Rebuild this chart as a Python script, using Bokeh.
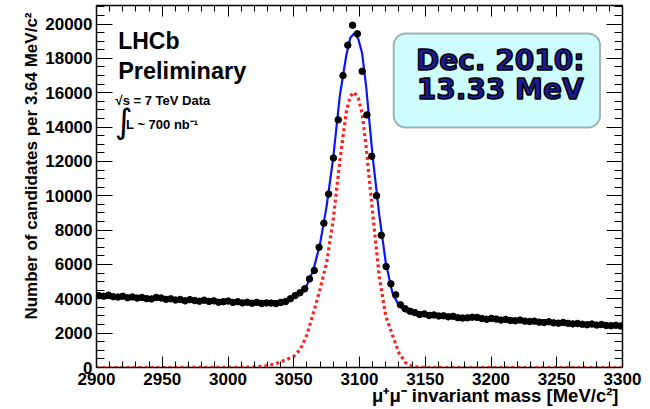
from bokeh.plotting import figure
from bokeh.models import Range1d, LinearAxis, SingleIntervalTicker, Label, BoxAnnotation, Title
from bokeh.embed import file_html
from bokeh.resources import INLINE

# ---- data ----
bin_centers = [
    2901.82, 2905.46, 2909.10, 2912.74, 2916.38, 2920.02, 2923.66, 2927.30, 2930.94, 2934.58,
    2938.22, 2941.86, 2945.50, 2949.14, 2952.78, 2956.42, 2960.06, 2963.70, 2967.34, 2970.98,
    2974.62, 2978.26, 2981.90, 2985.54, 2989.18, 2992.82, 2996.46, 3000.10, 3003.74, 3007.38,
    3011.02, 3014.66, 3018.30, 3021.94, 3025.58, 3029.22, 3032.86, 3036.50, 3040.14, 3043.78,
    3047.42, 3051.06, 3054.70, 3058.34, 3061.98, 3065.62, 3069.26, 3072.90, 3076.54, 3080.18,
    3083.82, 3087.46, 3091.10, 3094.74, 3098.38, 3102.02, 3105.66, 3109.30, 3112.94, 3116.58,
    3120.22, 3123.86, 3127.50, 3131.14, 3134.78, 3138.42, 3142.06, 3145.70, 3149.34, 3152.98,
    3156.62, 3160.26, 3163.90, 3167.54, 3171.18, 3174.82, 3178.46, 3182.10, 3185.74, 3189.38,
    3193.02, 3196.66, 3200.30, 3203.94, 3207.58, 3211.22, 3214.86, 3218.50, 3222.14, 3225.78,
    3229.42, 3233.06, 3236.70, 3240.34, 3243.98, 3247.62, 3251.26, 3254.90, 3258.54, 3262.18,
    3265.82, 3269.46, 3273.10, 3276.74, 3280.38, 3284.02, 3287.66, 3291.30, 3294.94, 3298.58,
]
candidates = [
    4180, 4150, 4210, 4120, 4100, 4150, 4060, 4110, 4040, 4080,
    4010, 3990, 4080, 4050, 3970, 4000, 3930, 3960, 3880, 3950,
    3900, 3860, 3920, 3850, 3880, 3800, 3830, 3870, 3790, 3830,
    3760, 3800, 3740, 3790, 3730, 3760, 3750, 3720, 3790, 3840,
    4000, 4190, 4350, 4580, 5160, 5650, 7000, 8400, 10100, 12200,
    14420, 17000, 18770, 19930, 19430, 17250, 14710, 12300, 10000, 7700,
    5880, 4870, 4230, 3650, 3420, 3280, 3200, 3090, 3120, 3030,
    3060, 3000, 3010, 2950, 2980, 2900, 2880, 2890, 2930, 2920,
    2850, 2810, 2860, 2820, 2760, 2800, 2740, 2720, 2760, 2700,
    2680, 2700, 2640, 2620, 2660, 2600, 2580, 2620, 2570, 2540,
    2560, 2520, 2490, 2530, 2470, 2500, 2450, 2430, 2460, 2420,
]

fit_mass = [2900, 2910, 2920, 2930, 2940, 2950, 2960, 2970, 2980, 2990,
            3000, 3010, 3020, 3030, 3035, 3040, 3045, 3050, 3055, 3060,
            3065, 3070, 3075, 3080, 3085, 3090, 3093, 3096, 3099, 3102,
            3105, 3110, 3115, 3120, 3125, 3130, 3135, 3140, 3145, 3150,
            3160, 3170, 3180, 3190, 3200, 3210, 3220, 3230, 3240, 3250,
            3260, 3270, 3280, 3290, 3300]
fit_total = [4200, 4150, 4100, 4050, 4000, 3960, 3920, 3880, 3850, 3820,
             3795, 3775, 3765, 3775, 3800, 3840, 3910, 4040, 4300, 4800,
             5700, 7200, 9400, 12200, 15800, 18200, 19200, 19450, 19150, 18300,
             16400, 12300, 8900, 6100, 4350, 3600, 3280, 3150, 3080, 3040,
             2990, 2930, 2870, 2820, 2770, 2730, 2690, 2650, 2610, 2575,
             2540, 2505, 2470, 2440, 2410]

sig_mass = [2900, 2950, 3000, 3010, 3020, 3025, 3030, 3035, 3040, 3045,
            3050, 3055, 3060, 3065, 3070, 3075, 3080, 3085, 3090, 3093,
            3096, 3099, 3102, 3105, 3110, 3115, 3120, 3125, 3130, 3135,
            3140, 3145, 3150, 3200, 3250, 3300]
fit_signal = [0, 0, 5, 15, 35, 60, 110, 190, 320, 480,
              650, 1050, 1900, 3200, 4550, 6100, 8600, 12000, 14900, 15800,
              16030, 15700, 14800, 12900, 9000, 5300, 3000, 1900, 850, 280,
              70, 15, 0, 0, 0, 0]

x_title = "\u03bc\u207a\u03bc\u207b invariant mass [MeV/c\u00b2]"
y_title = "Number of candidates per 3.64 MeV/c\u00b2"

FONT = "Liberation Sans"

p = figure(width=650, height=409, output_backend="svg", toolbar_location=None,
           x_range=Range1d(2900, 3300), y_range=Range1d(0, 21080),
           min_border_left=96, min_border_right=28, min_border_top=5, min_border_bottom=42,
           x_axis_location=None, y_axis_location=None)
p.grid.visible = False
p.outline_line_color = "black"
p.outline_line_width = 1.5
p.background_fill_color = "white"
p.border_fill_color = "white"


def make_axis(ticker, tin, mtin, labels):
    ax = LinearAxis(ticker=ticker)
    ax.major_tick_in = tin
    ax.major_tick_out = 0
    ax.minor_tick_in = mtin
    ax.minor_tick_out = 0
    ax.axis_line_color = "black"
    ax.major_tick_line_color = "black"
    ax.minor_tick_line_color = "black"
    if labels:
        ax.major_label_text_font = FONT
        ax.major_label_text_font_style = "bold"
        ax.major_label_text_font_size = "17px"
        ax.major_label_text_color = "black"
    else:
        ax.major_label_text_font_size = "0px"
        ax.major_label_text_color = None
        ax.major_label_standoff = 0
    return ax

xt = SingleIntervalTicker(interval=50, num_minor_ticks=5)
yt = SingleIntervalTicker(interval=2000, num_minor_ticks=4)

bx = make_axis(xt, 11, 6, True)
bx.major_label_standoff = 5
p.add_layout(bx, "below")
p.add_layout(make_axis(SingleIntervalTicker(interval=50, num_minor_ticks=5), 11, 6, False), "above")
ly = make_axis(yt, 16, 8, True)
ly.major_label_standoff = 4
p.add_layout(ly, "left")
p.add_layout(make_axis(SingleIntervalTicker(interval=2000, num_minor_ticks=4), 16, 8, False), "right")

# axis titles
p.add_layout(Title(text=x_title, align="right", text_font=FONT, text_font_style="bold",
                   text_font_size="18.5px", text_color="black", standoff=-9, offset=4), "below")
p.add_layout(Title(text=y_title, align="right", text_font=FONT, text_font_style="bold",
                   text_font_size="17px", text_color="black", standoff=3, offset=7), "left")

# curves and data
p.line(sig_mass, fit_signal, line_color="#ff2020", line_width=3.2, line_dash="3 3")
p.line(fit_mass, fit_total, line_color="#0a14ff", line_width=2.2)
p.scatter(bin_centers, candidates, size=6.5, color="black")

# text annotations
p.add_layout(Label(x=2916.5, y=18265, text="LHCb", text_font=FONT, text_font_style="bold",
                   text_font_size="23px", text_color="black"))
p.add_layout(Label(x=2916.5, y=16518, text="Preliminary", text_font=FONT, text_font_style="bold",
                   text_font_size="23.5px", text_color="black"))
p.add_layout(Label(x=2914.5, y=15138, text="\u221as = 7 TeV Data", text_font=FONT,
                   text_font_style="bold", text_font_size="13px", text_color="black"))
p.add_layout(Label(x=2914.0, y=13200, text="\u222b", text_font="DejaVu Sans",
                   text_font_size="34px", text_color="black"))
p.add_layout(Label(x=2922.5, y=13741, text="L ~ 700 nb\u207b\u00b9", text_font=FONT,
                   text_font_style="bold", text_font_size="13px", text_color="black"))

# highlighted box
p.add_layout(BoxAnnotation(left=3126, right=3283, bottom=13975, top=19450,
                           fill_color="#cdfdfd", fill_alpha=1.0, line_color="black",
                           line_width=2, border_radius=12))
p.add_layout(Label(x=3207, y=17875, text="Dec. 2010:", text_font="DejaVu Sans",
                   text_font_style="bold", text_font_size="28px", text_color="#1c1c90",
                   text_align="center", text_baseline="middle",
                   text_outline_color="black"))
p.add_layout(Label(x=3207, y=16186, text="13.33 MeV", text_font="DejaVu Sans",
                   text_font_style="bold", text_font_size="28px", text_color="#1c1c90",
                   text_align="center", text_baseline="middle",
                   text_outline_color="black"))

open("out.html", "w").write(file_html(p, INLINE))
